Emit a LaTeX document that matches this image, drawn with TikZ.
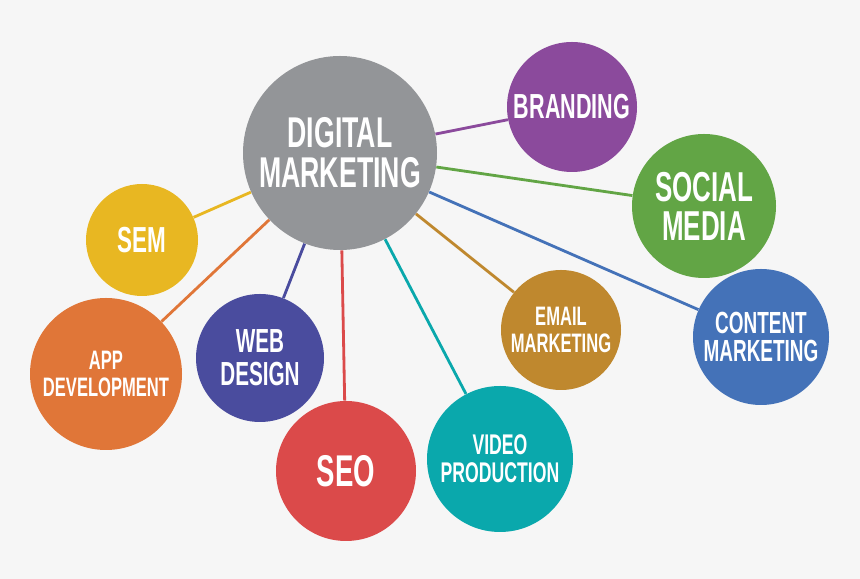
\documentclass[tikz,border=0pt]{standalone}
\usepackage{fontspec}
\usepackage{tikz}
\newfontfamily\bebas[FakeStretch=0.62]{Liberation Sans}
\definecolor{bgcol}{HTML}{F6F6F6}
\definecolor{dmgray}{HTML}{939598}
\definecolor{brandcol}{HTML}{8B4A9C}
\definecolor{socialcol}{HTML}{62A545}
\definecolor{contentcol}{HTML}{4472B8}
\definecolor{emailcol}{HTML}{BF882E}
\definecolor{videocol}{HTML}{0AA8AC}
\definecolor{seocol}{HTML}{DB4A4A}
\definecolor{webcol}{HTML}{4A4C9E}
\definecolor{appcol}{HTML}{E07638}
\definecolor{semcol}{HTML}{E8B722}
\newcommand{\sz}[2]{\bebas\bfseries\fontsize{#1}{#2}\selectfont}

\begin{document}
\begin{tikzpicture}
		[bubble/.style={circle,inner sep=0pt,text=white,align=center},
		link/.style={-,line width=1.6pt}]
		\fill [bgcol] (0,0) rectangle (17.2,11.58);
		\node at (6.80, 8.52) (dm) [bubble,fill=dmgray,minimum size=3.88cm,font=\sz{24.5}{22.7}] {DIGITAL\\MARKETING};
		\node at (11.44, 9.44) (brand) [bubble,fill=brandcol,minimum size=2.60cm,font=\sz{19.8}{20}] {BRANDING}
			edge [link,brandcol] (dm);
		\node at (14.08, 7.46) (social) [bubble,fill=socialcol,minimum size=2.88cm,font=\sz{23.8}{22.1}] {SOCIAL\\MEDIA}
			edge [link,socialcol] (dm);
		\node at (15.22, 4.84) (content) [bubble,fill=contentcol,minimum size=2.72cm,font=\sz{17.4}{15.9}] {CONTENT\\MARKETING}
			edge [link,contentcol] (dm);
		\node at (11.22, 4.98) (email) [bubble,fill=emailcol,minimum size=2.40cm,font=\sz{15.2}{15.3}] {EMAIL\\MARKETING}
			edge [link,emailcol] (dm);
		\node at (10.00, 2.40) (video) [bubble,fill=videocol,minimum size=2.92cm,font=\sz{16.2}{15.9}] {VIDEO\\PRODUCTION}
			edge [link,videocol] (dm);
		\node at (6.92, 2.16) (seo) [bubble,fill=seocol,minimum size=2.80cm,font=\sz{25.3}{25}] {SEO}
			edge [link,seocol] (dm);
		\node at (5.20, 4.42) (web) [bubble,fill=webcol,minimum size=2.56cm,font=\sz{19}{18.7}] {WEB\\DESIGN}
			edge [link,webcol] (dm);
		\node at (2.12, 4.10) (app) [bubble,fill=appcol,minimum size=3.04cm,font=\sz{15.2}{15.3}] {APP\\DEVELOPMENT}
			edge [link,appcol] (dm);
		\node at (2.84, 6.78) (sem) [bubble,fill=semcol,minimum size=2.24cm,font=\sz{20.6}{20}] {SEM}
			edge [link,semcol] (dm);
	\end{tikzpicture}
\end{document}
